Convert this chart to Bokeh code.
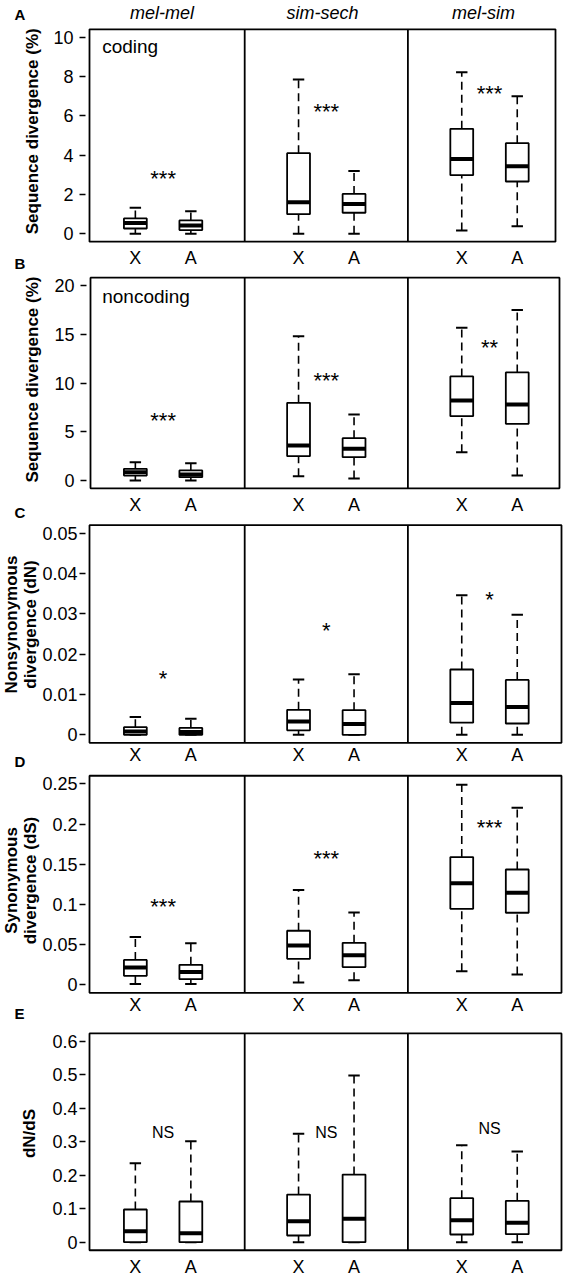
import math
from bokeh.plotting import figure
from bokeh.layouts import column
from bokeh.models import Range1d, FixedTicker
from bokeh.embed import file_html
from bokeh.resources import INLINE
from bokeh.core.properties import value

# ---------------- data ----------------
PAIRS = ["mel-mel", "sim-sech", "mel-sim"]
CHROMS = ["X", "A"]
PANEL_LETTERS = ["A", "B", "C", "D", "E"]

# order of the 6 boxes: mel-mel X, mel-mel A, sim-sech X, sim-sech A, mel-sim X, mel-sim A
CODING_LO = [0.0, 0.0, 0.0, 0.0, 0.17, 0.39]
CODING_Q1 = [0.27, 0.19, 1.0, 1.07, 2.98, 2.66]
CODING_MED = [0.55, 0.42, 1.61, 1.52, 3.8, 3.44]
CODING_Q3 = [0.78, 0.68, 4.1, 2.03, 5.34, 4.61]
CODING_HI = [1.32, 1.15, 7.85, 3.19, 8.22, 7.0]

NONCODING_LO = [0.0, 0.0, 0.44, 0.2, 2.9, 0.51]
NONCODING_Q1 = [0.51, 0.34, 2.5, 2.39, 6.6, 5.81]
NONCODING_MED = [0.85, 0.62, 3.59, 3.25, 8.2, 7.79]
NONCODING_Q3 = [1.2, 1.03, 7.97, 4.34, 10.67, 11.08]
NONCODING_HI = [1.88, 1.78, 14.8, 6.77, 15.66, 17.5]

DN_LO = [0.0, 0.0, 0.0, 0.0, 0.0, 0.0]
DN_Q1 = [0.0, 0.0, 0.0011, 0.0, 0.003, 0.0028]
DN_MED = [0.0008, 0.0007, 0.0033, 0.0027, 0.0079, 0.0069]
DN_Q3 = [0.0019, 0.0017, 0.0062, 0.0061, 0.0162, 0.0136]
DN_HI = [0.0044, 0.004, 0.0137, 0.015, 0.0346, 0.0298]

DS_LO = [0.001, 0.001, 0.003, 0.0058, 0.017, 0.0129]
DS_Q1 = [0.0112, 0.007, 0.0323, 0.022, 0.0945, 0.0896]
DS_MED = [0.0216, 0.0158, 0.0489, 0.0369, 0.1264, 0.1144]
DS_Q3 = [0.031, 0.0249, 0.0672, 0.0522, 0.1588, 0.1434]
DS_HI = [0.0593, 0.0518, 0.118, 0.09, 0.2488, 0.2201]

DNDS_LO = [0.0, 0.0, 0.0, 0.0, 0.0, 0.0]
DNDS_Q1 = [0.0, 0.0, 0.02, 0.0, 0.023, 0.024]
DNDS_MED = [0.033, 0.027, 0.0628, 0.0698, 0.0658, 0.0578]
DNDS_Q3 = [0.0977, 0.1216, 0.1425, 0.2023, 0.1316, 0.1236]
DNDS_HI = [0.236, 0.302, 0.324, 0.498, 0.29, 0.271]

# significance labels (one per species pair) and the height of their centre
CODING_SIG = ["***", "***", "***"]
CODING_SIG_Y = [3.09, 6.47, 7.41]
NONCODING_SIG = ["***", "***", "**"]
NONCODING_SIG_Y = [6.67, 10.77, 14.2]
DN_SIG = ["*", "*", "*"]
DN_SIG_Y = [0.0153, 0.0271, 0.0349]
DS_SIG = ["***", "***", "***"]
DS_SIG_Y = [0.1036, 0.1633, 0.2019]
DNDS_SIG = ["NS", "NS", "NS"]
DNDS_SIG_Y = [0.3265, 0.3265, 0.341]

# axes
CODING_TICKS = [0, 2, 4, 6, 8, 10]
CODING_TICK_LABELS = ["0", "2", "4", "6", "8", "10"]
NONCODING_TICKS = [0, 5, 10, 15, 20]
NONCODING_TICK_LABELS = ["0", "5", "10", "15", "20"]
DN_TICKS = [0, 0.01, 0.02, 0.03, 0.04, 0.05]
DN_TICK_LABELS = ["0", "0.01", "0.02", "0.03", "0.04", "0.05"]
DS_TICKS = [0, 0.05, 0.1, 0.15, 0.2, 0.25]
DS_TICK_LABELS = ["0", "0.05", "0.1", "0.15", "0.2", "0.25"]
DNDS_TICKS = [0, 0.1, 0.2, 0.3, 0.4, 0.5, 0.6]
DNDS_TICK_LABELS = ["0", "0.1", "0.2", "0.3", "0.4", "0.5", "0.6"]

Y_LIMITS = [10, 20, 0.05, 0.25, 0.6]
Y_TITLES = [["Sequence divergence (%)"], ["Sequence divergence (%)"],
            ["Nonsynonymous", "divergence (dN)"], ["Synonymous", "divergence (dS)"],
            ["dN/dS"]]
CORNER_LABELS = ["coding", "noncoding", None, None, None]

ROW_STATS = [
    (CODING_LO, CODING_Q1, CODING_MED, CODING_Q3, CODING_HI),
    (NONCODING_LO, NONCODING_Q1, NONCODING_MED, NONCODING_Q3, NONCODING_HI),
    (DN_LO, DN_Q1, DN_MED, DN_Q3, DN_HI),
    (DS_LO, DS_Q1, DS_MED, DS_Q3, DS_HI),
    (DNDS_LO, DNDS_Q1, DNDS_MED, DNDS_Q3, DNDS_HI),
]
ROW_SIG = [(CODING_SIG, CODING_SIG_Y), (NONCODING_SIG, NONCODING_SIG_Y),
           (DN_SIG, DN_SIG_Y), (DS_SIG, DS_SIG_Y), (DNDS_SIG, DNDS_SIG_Y)]
ROW_TICKS = [(CODING_TICKS, CODING_TICK_LABELS), (NONCODING_TICKS, NONCODING_TICK_LABELS),
             (DN_TICKS, DN_TICK_LABELS), (DS_TICKS, DS_TICK_LABELS),
             (DNDS_TICKS, DNDS_TICK_LABELS)]

# ---------------- layout / style (page pixels) ----------------
FONT = "Liberation Sans"
FIG_W = 564
PX_PER_UNIT = 54.4          # horizontal pixels per x unit
FIRST_CENTER_PX = 162.6     # pixel x of the first pair's centre
GROUP_STEP = 3.0
BOX_OFFSET = 0.51
BOX_HALF = 0.21
CAP_HALF = 0.105
FIG_TOP = [0, 272, 520, 770, 1025]
FIG_BOTTOM = [272, 520, 770, 1025, 1278]
ZERO_PX = [233.3, 480.0, 734.3, 984.3, 1241.7]     # page y of value 0
LIMIT_PX = [36.7, 285.0, 532.7, 783.3, 1041.0]     # page y of the upper limit
BOX_LEFT_PX = [89, 90, 89, 89, 89]
BOX_RIGHT_PX = [555, 559, 561, 561, 561]
TICK_STANDOFF = [6, 6, 2, 2, 2]
# vertical centres (page y) of the texts outside the boxes
XLAB_MID_PX = [257.5, 504.5, 754.5, 1004.5, 1266.5]
LETTER_MID_PX = [14.2, 263.0, 511.5, 761.0, 1012.5]
LETTER_X_PX = 14.0
HEADER_MID_PX = 12.1
HEADER_X_PX = [161.5, 322.0, 483.0]
TITLE_X_PX = [[31.7], [31.7], [11.0, 30.0], [11.0, 30.0], [29.0]]
TITLE_Y_PX = [130.8, 379.0, 624.0, 880.0, 1133.0]
CORNER_X_PX = 101.7
CORNER_MID_PX = [45.6, 295.6]


def make_row(i):
    ymax = Y_LIMITS[i]
    ppy = (ZERO_PX[i] - LIMIT_PX[i]) / ymax

    def vy(py):      # page y -> data y of this row
        return (ZERO_PX[i] - py) / ppy

    def vx(px):      # page x -> data x
        return 1.5 + (px - FIRST_CENTER_PX) / PX_PER_UNIT

    top, bottom = FIG_TOP[i], FIG_BOTTOM[i]
    p = figure(width=FIG_W, height=bottom - top,
               x_range=Range1d(vx(0), vx(FIG_W)), y_range=Range1d(vy(bottom), vy(top)),
               x_axis_location=None, y_axis_location="left",
               toolbar_location=None, output_backend="svg", title=None,
               min_border_left=0, min_border_right=0, min_border_top=0,
               min_border_bottom=0)
    p.grid.visible = False
    p.background_fill_color = "white"
    p.border_fill_color = "white"
    p.outline_line_color = None

    box_b, box_t = -0.04 * ymax, 1.04 * ymax
    box_l, box_r = vx(BOX_LEFT_PX[i]), vx(BOX_RIGHT_PX[i])

    # y axis drawn at the left edge of the box
    ticks, tick_labels = ROW_TICKS[i]
    ax = p.yaxis[0]
    ax.fixed_location = box_l
    ax.ticker = FixedTicker(ticks=ticks)
    ax.major_label_overrides = {t: s for t, s in zip(ticks, tick_labels)}
    ax.axis_line_color = None
    ax.minor_tick_line_color = None
    ax.major_tick_in = -4
    ax.major_tick_out = 10
    ax.major_tick_line_width = 1.5
    ax.major_tick_line_color = "black"
    ax.major_label_standoff = TICK_STANDOFF[i]
    ax.major_label_text_font = FONT
    ax.major_label_text_font_size = "18px"
    ax.major_label_text_color = "black"

    # frame box and panel dividers
    p.quad(left=[box_l], right=[box_r], bottom=[box_b], top=[box_t], fill_color=None,
           line_color="black", line_width=1.8)
    divs = [GROUP_STEP * g for g in range(1, len(PAIRS))]
    p.segment(x0=divs, y0=[box_b] * len(divs), x1=divs, y1=[box_t] * len(divs),
              line_color="black", line_width=1.8)

    # box plots
    centers = [1.5 + GROUP_STEP * g for g in range(len(PAIRS))]
    xs = []
    for c in centers:
        xs += [c - BOX_OFFSET, c + BOX_OFFSET]
    lo, q1, med, q3, hi = ROW_STATS[i]
    data = dict(x=xs, bl=[x - BOX_HALF for x in xs], br=[x + BOX_HALF for x in xs],
                cl=[x - CAP_HALF for x in xs], cr=[x + CAP_HALF for x in xs],
                lo=lo, q1=q1, med=med, q3=q3, hi=hi)
    p.segment(x0="x", y0="q3", x1="x", y1="hi", source=data, line_color="black",
              line_width=1.6, line_dash="8 5")
    p.segment(x0="x", y0="lo", x1="x", y1="q1", source=data, line_color="black",
              line_width=1.6, line_dash="8 5")
    p.segment(x0="cl", y0="hi", x1="cr", y1="hi", source=data, line_color="black",
              line_width=2)
    p.segment(x0="cl", y0="lo", x1="cr", y1="lo", source=data, line_color="black",
              line_width=2)
    p.quad(left="bl", right="br", bottom="q1", top="q3", source=data, fill_color="white",
           line_color="black", line_width=1.8)
    p.segment(x0="bl", y0="med", x1="br", y1="med", source=data, line_color="black",
              line_width=4)

    # significance marks (asterisks sit above the middle of the text line)
    sig, sig_y = ROW_SIG[i]
    is_ns = sig[0] == "NS"
    size = 16 if is_ns else 22
    shift = 0.0 if is_ns else 0.2275 * size
    p.text(x=centers, y=[v - shift / ppy for v in sig_y], text=sig,
           text_font=value(FONT), text_font_size=f"{size}px", text_align="center",
           text_baseline="middle", text_color="black")

    # corner label
    if CORNER_LABELS[i]:
        p.text(x=[vx(CORNER_X_PX)], y=[vy(CORNER_MID_PX[i])], text=[CORNER_LABELS[i]],
               text_font=value(FONT), text_font_size="19px", text_align="left",
               text_baseline="middle", text_color="black")

    # X / A labels under the boxes
    p.text(x=xs, y=[vy(XLAB_MID_PX[i])] * len(xs),
           text=[CHROMS[k % 2] for k in range(len(xs))],
           text_font=value(FONT), text_font_size="18px", text_align="center",
           text_baseline="middle", text_color="black")

    # y title(s)
    lines = Y_TITLES[i]
    p.text(x=[vx(t) for t in TITLE_X_PX[i]], y=[vy(TITLE_Y_PX[i])] * len(lines),
           text=lines, angle=math.pi / 2, text_font=value(FONT), text_font_size="17px",
           text_font_style="bold", text_align="center", text_baseline="middle",
           text_color="black")

    # column headers and panel letters
    if i == 0:
        p.text(x=[vx(h) for h in HEADER_X_PX], y=[vy(HEADER_MID_PX)] * len(PAIRS),
               text=PAIRS, text_font=value(FONT), text_font_size="18px",
               text_font_style="italic", text_align="center", text_baseline="middle",
               text_color="black")
        p.text(x=[vx(LETTER_X_PX)], y=[vy(LETTER_MID_PX[0])], text=[PANEL_LETTERS[0]],
               text_font=value(FONT), text_font_size="15px", text_font_style="bold",
               text_align="left", text_baseline="middle", text_color="black")
    if i + 1 < len(PANEL_LETTERS):
        # the next row's letter sits in this row's lower margin
        p.text(x=[vx(LETTER_X_PX)], y=[vy(LETTER_MID_PX[i + 1])],
               text=[PANEL_LETTERS[i + 1]], text_font=value(FONT), text_font_size="15px",
               text_font_style="bold", text_align="left", text_baseline="middle",
               text_color="black")
    return p


rows = [make_row(i) for i in range(len(Y_LIMITS))]
layout = column(*rows, spacing=0)

open("out.html", "w").write(file_html(layout, INLINE))
